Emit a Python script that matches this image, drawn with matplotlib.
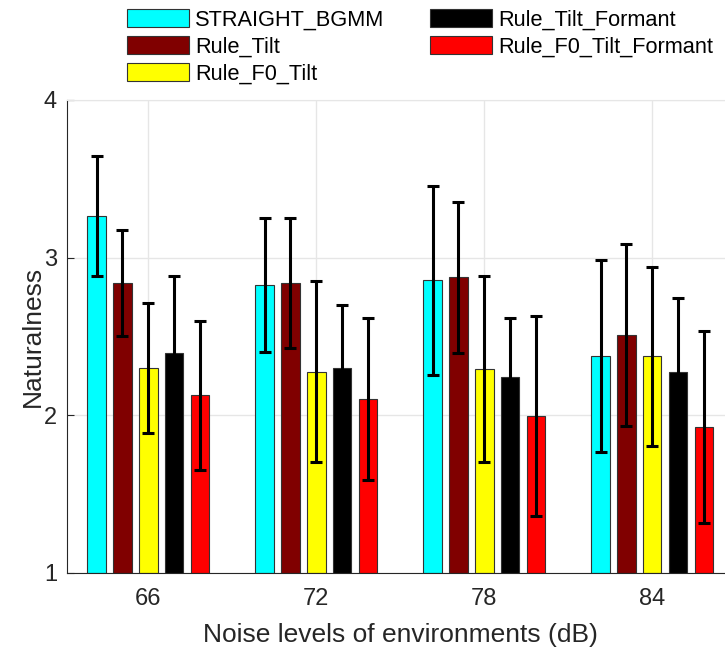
import matplotlib

matplotlib.use("Agg")

import matplotlib.pyplot as plt
import numpy as np

noise_levels = ["66", "72", "78", "84"]
methods = ["STRAIGHT_BGMM", "Rule_Tilt", "Rule_F0_Tilt", "Rule_Tilt_Formant", "Rule_F0_Tilt_Formant"]

# mean naturalness per method, one value per noise level
straight_bgmm = [3.265, 2.825, 2.857, 2.374]
rule_tilt = [2.841, 2.841, 2.875, 2.510]
rule_f0_tilt = [2.300, 2.277, 2.292, 2.374]
rule_tilt_formant = [2.393, 2.300, 2.243, 2.277]
rule_f0_tilt_formant = [2.127, 2.101, 1.994, 1.926]

# error bar half-lengths
straight_bgmm_err = [0.380, 0.425, 0.600, 0.608]
rule_tilt_err = [0.337, 0.413, 0.478, 0.578]
rule_f0_tilt_err = [0.415, 0.572, 0.591, 0.568]
rule_tilt_formant_err = [0.490, 0.398, 0.376, 0.469]
rule_f0_tilt_formant_err = [0.474, 0.514, 0.635, 0.609]

means = [straight_bgmm, rule_tilt, rule_f0_tilt, rule_tilt_formant, rule_f0_tilt_formant]
errs = [straight_bgmm_err, rule_tilt_err, rule_f0_tilt_err, rule_tilt_formant_err, rule_f0_tilt_formant_err]
colors = ["#00ffff", "#800000", "#ffff00", "#000000", "#ff0000"]

plt.rcParams["font.family"] = ["Liberation Sans", "DejaVu Sans"]
text_color = "#262626"

fig = plt.figure(figsize=(7.25, 6.47), dpi=100)
# right edge of the axes sits past the figure edge, as in the cropped original
ax = fig.add_axes([0.092, 0.1144, 0.9204, 0.7311])

x = np.arange(1, len(noise_levels) + 1)
step = 0.154
width = 0.109
handles = []
for i, (vals, err, col) in enumerate(zip(means, errs, colors)):
    pos = x + (i - 2) * step
    h = ax.bar(pos, np.array(vals) - 1, width=width, bottom=1, color=col,
               edgecolor="#333333", linewidth=0.8, zorder=2, label=methods[i])
    handles.append(h)
    ax.errorbar(pos, vals, yerr=err, fmt="none", ecolor="black", elinewidth=2.2,
                capsize=4.5, capthick=2.2, zorder=3)

ax.set_xlim(0.514, 4.486)
ax.set_ylim(1, 4)
ax.set_xticks(x)
ax.set_xticklabels(noise_levels)
ax.set_yticks([1, 2, 3, 4])
ax.grid(True, color="#e6e6e6", linewidth=1.0, zorder=0)
ax.set_axisbelow(True)

ax.spines["right"].set_visible(False)
ax.spines["top"].set_color("#e6e6e6")
ax.spines["left"].set_color(text_color)
ax.spines["bottom"].set_color(text_color)
ax.spines["left"].set_linewidth(0.8)
ax.spines["bottom"].set_linewidth(0.8)

ax.tick_params(axis="y", direction="in", length=5, width=0.8, colors=text_color,
               labelsize=17, pad=7)
ax.tick_params(axis="x", length=0, colors=text_color, labelsize=17, pad=11)
ax.set_xlabel("Noise levels of environments (dB)", fontsize=19, color=text_color, labelpad=9)
ax.set_ylabel("Naturalness", fontsize=19, color=text_color, labelpad=-1)

leg = fig.legend(handles=handles, labels=methods, ncol=2, loc="upper left",
                 bbox_to_anchor=(127 / 725, 1 - 9 / 647), frameon=False,
                 fontsize=15.7, handlelength=2.85, handleheight=0.92,
                 handletextpad=0.28, labelspacing=0.24, columnspacing=2.1,
                 borderpad=0, borderaxespad=0)

fig.savefig("out.png", dpi=100, facecolor="white")
